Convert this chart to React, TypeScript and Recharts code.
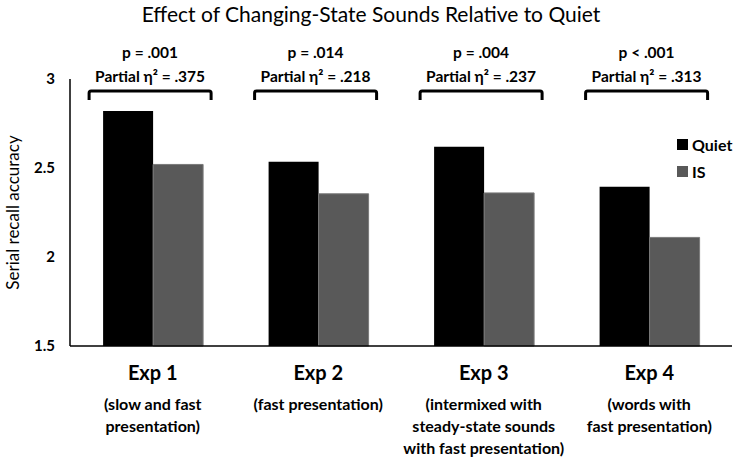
import React from 'react';
import { BarChart, Bar, XAxis, YAxis, LabelList } from 'recharts';

const categories = ['Exp 1', 'Exp 2', 'Exp 3', 'Exp 4'];
const subtitles = [
  ['(slow and fast', 'presentation)'],
  ['(fast presentation)'],
  ['(intermixed with', 'steady-state sounds', 'with fast presentation)'],
  ['(words with', 'fast presentation)'],
];
const quietValues = [2.82, 2.535, 2.62, 2.395];
const isValues = [2.52, 2.355, 2.36, 2.11];
const pValues = ['p = .001', 'p = .014', 'p = .004', 'p < .001'];
const etaValues = ['.375', '.218', '.237', '.313'];
const yTicks = [1.5, 2, 2.5, 3];
const seriesNames = ['Quiet', 'IS'];
const seriesColors = ['#000', '#595959'];

const FONT = 'Lato, "Open Sans", sans-serif';

const data = categories.map((name, i) => ({
  name,
  Quiet: quietValues[i],
  IS: isValues[i],
}));

const ExpTick = (props: any) => {
  const { x, y, payload, index } = props;
  const lines = subtitles[index] || [];
  return (
    <g transform={`translate(${x},${y})`} fontFamily={FONT} fill="#000">
      <text textAnchor="middle" y={26} fontSize={20} fontWeight="bold">
        {payload.value}
      </text>
      {lines.map((l, i) => (
        <text key={i} textAnchor="middle" y={56 + i * 22} fontSize={16} fontWeight="bold">
          {l}
        </text>
      ))}
    </g>
  );
};

// bracket + stats drawn above each pair, anchored on the Quiet bar
const StatsLabel = (props: any) => {
  const { x, width, index } = props;
  const cx = x + width - 3;
  const half = width * 1.22;
  const top = 91;
  const bottom = 100;
  const l = cx - half;
  const r = cx + half;
  return (
    <g fontFamily={FONT}>
      <text x={cx} y={58} textAnchor="middle" fontSize={15.5} fontWeight="bold" fill="#000">
        {pValues[index]}
      </text>
      <text x={cx} y={82} textAnchor="middle" fontSize={15.5} fontWeight="bold" fill="#000">
        {`Partial η² = ${etaValues[index]}`}
      </text>
      <path
        d={`M${l},${bottom} L${l},${top + 2} Q${l},${top} ${l + 2},${top} L${r - 2},${top} Q${r},${top} ${r},${top + 2} L${r},${bottom}`}
        fill="none"
        stroke="#000"
        strokeWidth={3}
      />
    </g>
  );
};

export default function App() {
  return (
    <div style={{ position: 'absolute', left: 0, top: 0, width: 742, height: 460, background: '#fff' }}>
      <div
        style={{
          position: 'absolute',
          top: 1,
          left: 0,
          width: 742,
          textAlign: 'center',
          fontFamily: FONT,
          fontSize: 21,
          color: '#000',
        }}
      >
        Effect of Changing-State Sounds Relative to Quiet
      </div>
      <div
        style={{
          position: 'absolute',
          top: 131,
          left: 677,
          fontFamily: FONT,
          fontWeight: 'bold',
          fontSize: 16,
          lineHeight: '27px',
          zIndex: 2,
        }}
      >
        {seriesNames.map((n, i) => (
          <div key={n} style={{ display: 'flex', alignItems: 'center' }}>
            <span
              style={{ display: 'inline-block', width: 11, height: 11, background: seriesColors[i], marginRight: 4 }}
            />
            {n}
          </div>
        ))}
      </div>
      <BarChart
        width={742}
        height={460}
        data={data}
        margin={{ top: 79, right: 10, left: 0, bottom: 0 }}
        barCategoryGap="20%"
        barGap={0}
      >
        <XAxis
          dataKey="name"
          tickLine={false}
          axisLine={{ stroke: '#000', strokeWidth: 1.5 }}
          tick={<ExpTick />}
          interval={0}
          height={114}
        />
        <YAxis
          domain={[1.5, 3]}
          ticks={yTicks}
          tickLine={false}
          tickMargin={9}
          width={70}
          axisLine={{ stroke: '#000', strokeWidth: 1.5 }}
          tick={{ fill: '#000', fontSize: 15, fontWeight: 'bold', fontFamily: FONT }}
          label={{
            value: 'Serial recall accuracy',
            angle: -90,
            position: 'insideLeft',
            dx: 8,
            style: { textAnchor: 'middle', fill: '#000', fontSize: 17, fontFamily: FONT },
          }}
        />
        <Bar dataKey="Quiet" fill={seriesColors[0]} isAnimationActive={false}>
          <LabelList dataKey="Quiet" content={<StatsLabel />} />
        </Bar>
        <Bar dataKey="IS" fill={seriesColors[1]} stroke="#7a7a7a" strokeWidth={1} isAnimationActive={false} />
      </BarChart>
    </div>
  );
}
